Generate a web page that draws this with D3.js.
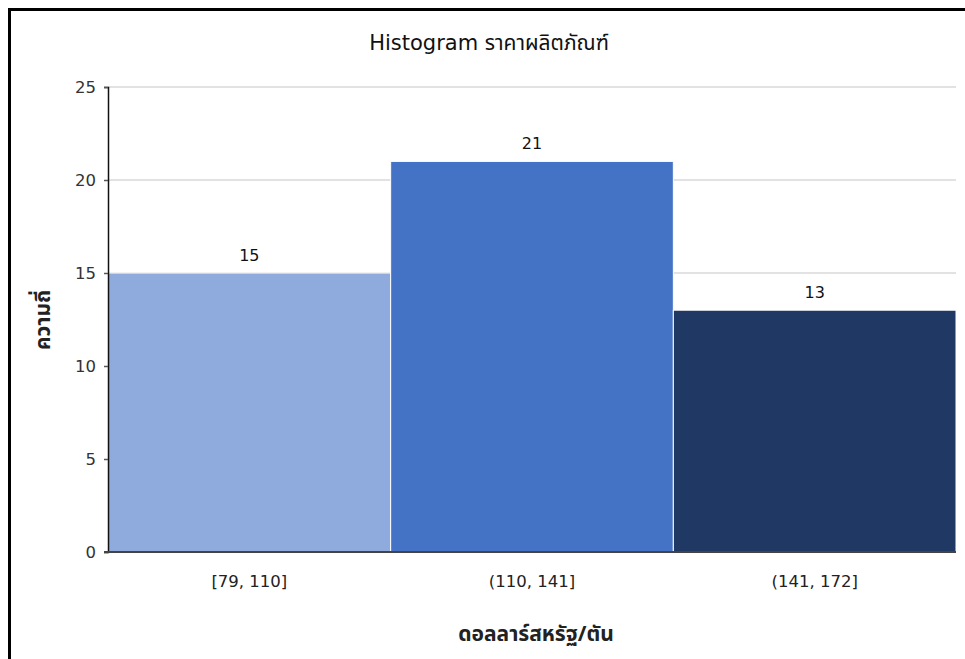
<!DOCTYPE html>
<html>
<head>
<meta charset="utf-8">
<script src="https://cdn.jsdelivr.net/npm/d3@7"></script>
<style>
  html, body { margin: 0; padding: 0; background: #fff; }
  svg { display: block; }
</style>
</head>
<body>
<svg id="chart" width="965" height="659"></svg>
<script>
// bins and counts
const binLabels = ['[79, 110]', '(110, 141]', '(141, 172]'];
const counts = [15, 21, 13];
const barColors = ['#8FAADC', '#4472C4', '#203864'];
const yTicks = [0, 5, 10, 15, 20, 25];

const titleText = 'Histogram ราคาผลิตภัณฑ์';
const xTitle = 'ดอลลาร์สหรัฐ/ตัน';
const yTitle = 'ความถี่';

const W = 965, H = 659;
const margin = { top: 87, right: 9, bottom: 107, left: 108 };
const fontFam = '"DejaVu Sans", "Noto Sans", "Noto Sans Thai", sans-serif';
const thaiFam = '"Noto Sans", "Noto Sans Thai", sans-serif';

const svg = d3.select('#chart');

// outer frame (runs past right and bottom edge)
svg.append('rect')
    .attr('x', 9.5).attr('y', 9.5)
    .attr('width', W + 20).attr('height', H + 20)
    .attr('fill', 'none')
    .attr('stroke', '#000')
    .attr('stroke-width', 3);

const x = d3.scaleBand()
    .domain(binLabels)
    .range([margin.left, W - margin.right])
    .paddingInner(0)
    .paddingOuter(0);

const y = d3.scaleLinear()
    .domain([0, 25])
    .range([H - margin.bottom, margin.top]);

// gridlines
svg.append('g')
    .selectAll('line')
    .data(yTicks.filter(t => t > 0))
    .join('line')
    .attr('x1', margin.left)
    .attr('x2', W - margin.right)
    .attr('y1', d => y(d))
    .attr('y2', d => y(d))
    .attr('stroke', '#d9d9d9')
    .attr('stroke-width', 1.5);

// bars
svg.append('g')
    .selectAll('rect')
    .data(counts)
    .join('rect')
    .attr('x', (d, i) => x(binLabels[i]))
    .attr('y', d => y(d))
    .attr('width', x.bandwidth())
    .attr('height', d => y(0) - y(d))
    .attr('fill', (d, i) => barColors[i])
    .attr('stroke', '#fff')
    .attr('stroke-width', 1);

// value labels
svg.append('g')
    .selectAll('text')
    .data(counts)
    .join('text')
    .attr('x', (d, i) => x(binLabels[i]) + x.bandwidth() / 2)
    .attr('y', d => y(d) - 12)
    .attr('text-anchor', 'middle')
    .attr('font-family', fontFam)
    .attr('font-size', 16)
    .attr('fill', '#111')
    .text(d => d);

// y axis
const yAxis = svg.append('g')
    .attr('transform', `translate(${margin.left},0)`)
    .call(d3.axisLeft(y).tickValues(yTicks).tickSize(4).tickPadding(8));
yAxis.select('.domain').attr('stroke', '#111').attr('stroke-width', 1.5);
yAxis.selectAll('.tick line').attr('stroke', '#555').attr('stroke-width', 1.5);
yAxis.selectAll('.tick text')
    .attr('font-family', fontFam)
    .attr('font-size', 16.5)
    .attr('fill', '#333');

// baseline
svg.append('line')
    .attr('x1', margin.left - 4)
    .attr('x2', W - margin.right)
    .attr('y1', y(0))
    .attr('y2', y(0))
    .attr('stroke', '#444')
    .attr('stroke-width', 2);

// x tick labels
svg.append('g')
    .selectAll('text')
    .data(binLabels)
    .join('text')
    .attr('x', d => x(d) + x.bandwidth() / 2)
    .attr('y', y(0) + 35)
    .attr('text-anchor', 'middle')
    .attr('font-family', fontFam)
    .attr('font-size', 16.5)
    .attr('fill', '#222')
    .text(d => d);

// title
svg.append('text')
    .attr('x', 489)
    .attr('y', 50)
    .attr('text-anchor', 'middle')
    .attr('font-family', fontFam)
    .attr('font-size', 21)
    .attr('fill', '#111')
    .text(titleText);

// axis titles
svg.append('text')
    .attr('x', 536)
    .attr('y', 641)
    .attr('text-anchor', 'middle')
    .attr('font-family', thaiFam)
    .attr('font-size', 21)
    .attr('font-weight', 'bold')
    .attr('fill', '#222')
    .text(xTitle);

svg.append('text')
    .attr('transform', 'translate(50,320) rotate(-90)')
    .attr('text-anchor', 'middle')
    .attr('font-family', thaiFam)
    .attr('font-size', 21)
    .attr('font-weight', 'bold')
    .attr('fill', '#222')
    .text(yTitle);
</script>
</body>
</html>
